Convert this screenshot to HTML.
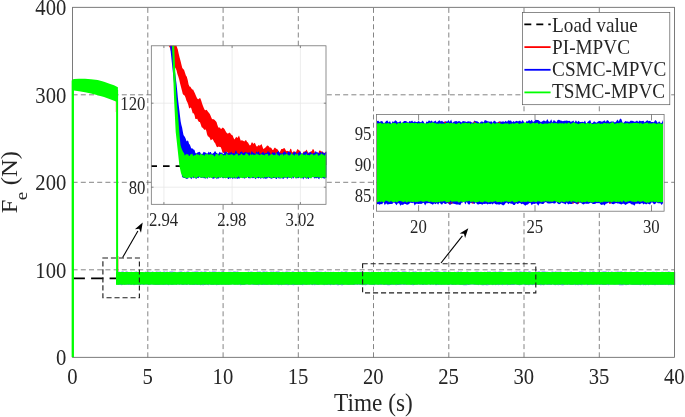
<!DOCTYPE html>
<html><head><meta charset="utf-8"><title>Fe response</title>
<style>html,body{margin:0;padding:0;background:#fff}svg{display:block}text{font-family:"Liberation Serif",serif;fill:#262626}</style></head><body>
<svg width="685" height="417" viewBox="0 0 685 417">
<rect width="685" height="417" fill="#fff"/>
<path d="M147.8,357.3V7.3M223.1,357.3V7.3M298.3,357.3V7.3M373.5,357.3V7.3M448.8,357.3V7.3M524,357.3V7.3M599.3,357.3V7.3M72.6,269.8H674.5M72.6,182.3H674.5M72.6,94.8H674.5" stroke="#666" stroke-width="0.8" stroke-dasharray="5 3.2" fill="none"/>
<path d="M72.6,278.4H116.5" stroke="#000" stroke-width="1.6" stroke-dasharray="12.3 6.2" fill="none"/>
<path d="M118,271.6L119.3,271.8L120.7,271.9L122,271.5L123.3,271.6L124.6,272.2L126,271.5L127.3,271.6L128.6,272.2L130,271.9L131.3,271.7L132.6,271.9L134,272L135.3,271.7L136.6,271.6L137.9,272.1L139.3,272L140.6,271.9L141.9,272.1L143.3,271.9L144.6,272.2L145.9,271.6L147.3,271.9L148.6,271.8L149.9,271.7L151.2,271.9L152.6,271.6L153.9,272.1L155.2,272.1L156.6,271.6L157.9,271.8L159.2,271.7L160.5,271.5L161.9,272.2L163.2,271.8L164.5,271.6L165.9,272L167.2,271.6L168.5,272.2L169.9,271.6L171.2,271.5L172.5,271.6L173.8,271.7L175.2,271.8L176.5,272.2L177.8,272L179.2,271.7L180.5,271.5L181.8,271.6L183.2,272.2L184.5,271.8L185.8,272L187.1,271.5L188.5,271.5L189.8,272.1L191.1,271.9L192.5,271.7L193.8,271.7L195.1,271.5L196.4,271.6L197.8,271.5L199.1,272.1L200.4,271.8L201.8,271.6L203.1,272L204.4,271.6L205.8,271.5L207.1,271.9L208.4,272.2L209.7,271.5L211.1,272.1L212.4,271.6L213.7,271.5L215.1,271.5L216.4,271.7L217.7,272L219,271.8L220.4,272.1L221.7,271.6L223,271.7L224.4,271.7L225.7,272.2L227,272.2L228.4,271.7L229.7,271.8L231,271.7L232.3,272L233.7,271.5L235,271.5L236.3,271.8L237.7,271.6L239,272.1L240.3,272L241.7,271.9L243,272L244.3,272L245.6,272.1L247,272.2L248.3,271.6L249.6,272L251,271.6L252.3,271.8L253.6,272.1L254.9,272.2L256.3,272.1L257.6,271.5L258.9,271.7L260.3,271.6L261.6,272.2L262.9,271.6L264.3,271.6L265.6,271.7L266.9,271.5L268.2,272.1L269.6,272L270.9,271.6L272.2,271.8L273.6,271.5L274.9,271.9L276.2,271.6L277.6,271.5L278.9,271.5L280.2,271.9L281.5,272L282.9,271.7L284.2,272L285.5,271.7L286.9,271.6L288.2,271.7L289.5,271.8L290.8,272.2L292.2,271.5L293.5,271.5L294.8,271.9L296.2,272.2L297.5,272.2L298.8,272L300.2,271.5L301.5,272.1L302.8,272L304.1,271.6L305.5,271.8L306.8,271.5L308.1,272.1L309.5,272L310.8,272.1L312.1,272.1L313.5,271.7L314.8,272.1L316.1,271.6L317.4,271.6L318.8,271.8L320.1,271.8L321.4,271.7L322.8,271.9L324.1,271.9L325.4,271.6L326.7,271.9L328.1,271.7L329.4,272L330.7,271.7L332.1,272.1L333.4,271.8L334.7,271.9L336.1,272L337.4,271.9L338.7,271.7L340,272.2L341.4,271.5L342.7,271.7L344,271.9L345.4,271.5L346.7,271.6L348,272.1L349.3,272.1L350.7,272L352,272.2L353.3,272.1L354.7,271.7L356,272L357.3,271.7L358.7,272L360,271.8L361.3,271.6L362.6,272.2L364,272L365.3,272L366.6,271.9L368,272.1L369.3,271.8L370.6,271.9L372,271.5L373.3,271.9L374.6,272.1L375.9,272L377.3,272.1L378.6,271.8L379.9,272.2L381.3,271.5L382.6,272.2L383.9,271.7L385.2,271.5L386.6,271.9L387.9,271.8L389.2,271.8L390.6,272.1L391.9,271.6L393.2,271.9L394.6,271.8L395.9,271.9L397.2,271.8L398.5,271.6L399.9,271.9L401.2,272.1L402.5,271.6L403.9,271.5L405.2,271.5L406.5,271.8L407.9,272.2L409.2,271.5L410.5,272.2L411.8,271.9L413.2,271.5L414.5,271.8L415.8,271.6L417.2,272L418.5,271.9L419.8,271.7L421.1,271.7L422.5,272.1L423.8,272.1L425.1,271.8L426.5,271.8L427.8,272L429.1,272.2L430.5,271.5L431.8,271.6L433.1,271.7L434.4,271.9L435.8,271.5L437.1,271.5L438.4,271.6L439.8,271.8L441.1,272L442.4,271.9L443.8,271.5L445.1,271.5L446.4,271.8L447.7,272.1L449.1,272.2L450.4,271.7L451.7,272.2L453.1,272.2L454.4,271.8L455.7,272L457,271.7L458.4,271.6L459.7,271.9L461,271.5L462.4,272L463.7,272.1L465,272.2L466.4,271.8L467.7,271.5L469,272.2L470.3,272.1L471.7,272.2L473,271.9L474.3,272L475.7,271.7L477,271.6L478.3,271.7L479.6,272L481,271.7L482.3,272L483.6,271.9L485,271.8L486.3,272.2L487.6,271.6L489,271.8L490.3,271.6L491.6,272.2L492.9,271.8L494.3,271.7L495.6,271.6L496.9,271.9L498.3,271.8L499.6,271.6L500.9,271.5L502.3,271.8L503.6,271.9L504.9,271.9L506.2,272.2L507.6,272.2L508.9,272.2L510.2,272.1L511.6,271.8L512.9,271.9L514.2,271.8L515.5,271.8L516.9,271.5L518.2,272.1L519.5,271.6L520.9,271.5L522.2,271.8L523.5,272L524.9,271.8L526.2,271.7L527.5,272L528.8,271.6L530.2,271.5L531.5,271.9L532.8,271.9L534.2,272.1L535.5,271.8L536.8,272.1L538.2,271.5L539.5,271.5L540.8,271.9L542.1,271.6L543.5,271.5L544.8,271.6L546.1,271.7L547.5,271.7L548.8,271.9L550.1,272.2L551.4,271.7L552.8,271.6L554.1,271.9L555.4,271.5L556.8,271.8L558.1,271.7L559.4,271.8L560.8,271.5L562.1,271.9L563.4,271.9L564.7,272L566.1,272.2L567.4,271.7L568.7,272L570.1,271.8L571.4,271.6L572.7,272.2L574.1,272L575.4,272.2L576.7,272.1L578,272.2L579.4,271.6L580.7,271.5L582,271.6L583.4,271.8L584.7,272L586,271.8L587.3,271.9L588.7,272.1L590,271.5L591.3,272L592.7,271.5L594,271.6L595.3,272L596.7,272L598,271.8L599.3,271.7L600.6,272.1L602,271.7L603.3,271.5L604.6,271.6L606,271.5L607.3,272.1L608.6,271.5L609.9,272.2L611.3,271.6L612.6,271.7L613.9,271.9L615.3,271.7L616.6,271.8L617.9,271.5L619.3,271.8L620.6,271.5L621.9,271.6L623.2,272.2L624.6,271.7L625.9,271.7L627.2,272L628.6,272.2L629.9,271.7L631.2,271.8L632.6,272L633.9,272.1L635.2,271.9L636.5,271.6L637.9,271.6L639.2,272.1L640.5,272L641.9,272.2L643.2,272.1L644.5,271.8L645.8,271.6L647.2,272.2L648.5,272L649.8,271.9L651.2,272L652.5,271.8L653.8,271.7L655.2,271.9L656.5,271.8L657.8,272L659.1,272.2L660.5,272.1L661.8,271.8L663.1,271.7L664.5,272.2L665.8,271.8L667.1,272.1L668.5,271.5L669.8,271.8L671.1,271.9L672.4,272.1L673.8,272.2L675.1,271.6L675.1,285L673.8,285L672.4,284.6L671.1,285.2L669.8,284.9L668.5,285.3L667.1,284.6L665.8,284.9L664.5,284.8L663.1,285L661.8,285L660.5,284.9L659.1,284.8L657.8,284.9L656.5,284.8L655.2,285.2L653.8,284.9L652.5,284.9L651.2,284.7L649.8,284.7L648.5,285.3L647.2,284.8L645.8,285.2L644.5,285L643.2,285.3L641.9,284.6L640.5,285.3L639.2,285.1L637.9,285L636.5,285.1L635.2,285.1L633.9,284.9L632.6,285L631.2,284.7L629.9,284.5L628.6,285L627.2,284.9L625.9,285.2L624.6,284.7L623.2,285.2L621.9,285.3L620.6,285.2L619.3,285.3L617.9,284.6L616.6,284.6L615.3,284.7L613.9,284.8L612.6,284.6L611.3,284.6L609.9,284.5L608.6,285.2L607.3,284.8L606,285L604.6,284.9L603.3,285.1L602,285.1L600.6,284.8L599.3,284.9L598,284.6L596.7,284.7L595.3,284.7L594,284.7L592.7,284.8L591.3,285L590,284.8L588.7,284.8L587.3,285.2L586,284.5L584.7,284.5L583.4,284.5L582,285.2L580.7,285L579.4,285.1L578,285.3L576.7,284.7L575.4,285.2L574.1,284.7L572.7,284.9L571.4,285L570.1,285.1L568.7,284.7L567.4,284.9L566.1,284.5L564.7,284.7L563.4,285.3L562.1,285.2L560.8,285L559.4,285.1L558.1,285.2L556.8,284.8L555.4,285.3L554.1,284.9L552.8,284.6L551.4,284.9L550.1,285L548.8,285.1L547.5,285L546.1,284.5L544.8,285L543.5,285.2L542.1,285L540.8,285.3L539.5,284.9L538.2,285.1L536.8,284.6L535.5,285.2L534.2,284.8L532.8,285.2L531.5,284.8L530.2,285L528.8,285.2L527.5,285.1L526.2,285L524.9,285.3L523.5,284.6L522.2,284.6L520.9,284.9L519.5,285.3L518.2,285L516.9,284.7L515.5,284.6L514.2,284.9L512.9,284.9L511.6,284.9L510.2,285L508.9,284.7L507.6,285.2L506.2,284.7L504.9,284.6L503.6,284.8L502.3,285.2L500.9,284.6L499.6,284.7L498.3,285.2L496.9,284.8L495.6,285.2L494.3,284.5L492.9,285.2L491.6,284.7L490.3,284.6L489,285.1L487.6,285.3L486.3,285.3L485,285.1L483.6,285.2L482.3,285.3L481,284.9L479.6,284.6L478.3,285.2L477,284.8L475.7,284.8L474.3,284.9L473,284.5L471.7,284.5L470.3,284.7L469,285L467.7,285.1L466.4,285.3L465,285.2L463.7,285.3L462.4,285L461,285.1L459.7,285L458.4,284.6L457,284.5L455.7,285.1L454.4,284.7L453.1,285.1L451.7,284.9L450.4,284.5L449.1,284.9L447.7,284.9L446.4,284.6L445.1,284.7L443.8,284.7L442.4,284.8L441.1,285.1L439.8,284.6L438.4,284.9L437.1,285L435.8,285.3L434.4,284.6L433.1,284.6L431.8,284.7L430.5,284.7L429.1,284.6L427.8,284.6L426.5,284.7L425.1,284.7L423.8,284.9L422.5,285L421.1,284.8L419.8,284.6L418.5,284.6L417.2,284.7L415.8,284.6L414.5,284.9L413.2,285.2L411.8,285.1L410.5,284.7L409.2,284.5L407.9,284.6L406.5,284.8L405.2,284.8L403.9,285L402.5,284.6L401.2,284.7L399.9,285L398.5,285L397.2,284.9L395.9,285.2L394.6,284.6L393.2,284.7L391.9,285L390.6,285L389.2,285.3L387.9,285.3L386.6,285L385.2,285.1L383.9,285.1L382.6,284.6L381.3,285L379.9,284.7L378.6,284.8L377.3,284.6L375.9,284.5L374.6,285.2L373.3,285.1L372,285.1L370.6,284.7L369.3,284.8L368,284.6L366.6,285L365.3,285.2L364,285.1L362.6,285.2L361.3,284.7L360,285.1L358.7,284.6L357.3,284.9L356,284.6L354.7,284.9L353.3,284.9L352,284.8L350.7,284.8L349.3,285.1L348,284.9L346.7,284.8L345.4,284.6L344,284.7L342.7,285.2L341.4,285.3L340,284.8L338.7,285.2L337.4,285.2L336.1,284.7L334.7,284.7L333.4,285.1L332.1,284.7L330.7,285.3L329.4,284.8L328.1,285.1L326.7,285.1L325.4,284.7L324.1,285.2L322.8,284.8L321.4,284.6L320.1,284.5L318.8,284.9L317.4,285L316.1,284.7L314.8,285.2L313.5,284.7L312.1,285.2L310.8,284.5L309.5,284.7L308.1,284.6L306.8,284.9L305.5,284.8L304.1,284.8L302.8,285.2L301.5,285L300.2,285L298.8,284.8L297.5,285.1L296.2,284.9L294.8,285.1L293.5,285.2L292.2,285L290.8,284.8L289.5,284.7L288.2,285.2L286.9,285.1L285.5,285.1L284.2,284.7L282.9,284.8L281.5,285.2L280.2,284.7L278.9,285.2L277.6,284.9L276.2,284.7L274.9,284.8L273.6,284.6L272.2,285L270.9,285.1L269.6,284.5L268.2,284.7L266.9,285.1L265.6,284.7L264.3,284.9L262.9,285.1L261.6,285L260.3,284.6L258.9,285.2L257.6,285.1L256.3,285L254.9,284.8L253.6,285L252.3,284.8L251,284.6L249.6,284.6L248.3,284.5L247,284.6L245.6,284.7L244.3,285L243,285L241.7,285L240.3,285.2L239,284.6L237.7,284.8L236.3,284.6L235,284.8L233.7,284.6L232.3,284.6L231,284.6L229.7,284.8L228.4,285.1L227,284.7L225.7,285.1L224.4,284.7L223,284.7L221.7,284.9L220.4,284.6L219,284.9L217.7,285L216.4,285.2L215.1,284.5L213.7,285.1L212.4,285L211.1,285L209.7,284.5L208.4,285.2L207.1,284.7L205.8,284.9L204.4,284.9L203.1,285.2L201.8,285L200.4,285.3L199.1,284.7L197.8,285L196.4,285L195.1,284.9L193.8,285L192.5,284.9L191.1,284.8L189.8,285L188.5,284.6L187.1,284.9L185.8,284.9L184.5,284.7L183.2,285L181.8,285L180.5,284.6L179.2,284.7L177.8,284.5L176.5,285L175.2,284.6L173.8,284.7L172.5,284.9L171.2,284.9L169.9,284.5L168.5,285.3L167.2,284.7L165.9,285L164.5,284.7L163.2,285L161.9,284.8L160.5,284.8L159.2,284.9L157.9,285L156.6,285L155.2,285.1L153.9,284.7L152.6,284.6L151.2,284.7L149.9,284.8L148.6,285L147.3,284.8L145.9,284.7L144.6,284.6L143.3,285L141.9,284.6L140.6,284.9L139.3,285.1L137.9,285L136.6,284.6L135.3,284.8L134,285.3L132.6,284.6L131.3,285L130,284.8L128.6,285L127.3,284.8L126,284.6L124.6,284.9L123.3,284.5L122,285.2L120.7,285.1L119.3,284.8L118,284.9Z" fill="#0000ff" fill-opacity="0.55"/>
<path d="M118.4,256V271.5" stroke="#ff0000" stroke-opacity="0.5" stroke-width="0.6" fill="none"/>
<path d="M115.9,99V112" stroke="#ff0000" stroke-opacity="0.5" stroke-width="0.5" fill="none"/>
<path d="M71.8,81L72.6,79.6L74,79.1L79,78.8L85,78.8L91,79.2L97.7,80.1L104,81.7L110.2,83.9L114,85.3L117.9,87.2L117.9,102.2L116,101.4L110.2,99.2L104,97.1L97.7,95.2L91,93.6L85,92.3L79,91.3L73.8,90.5L73.8,357.3L71.8,357.3Z" fill="#00ff00"/>
<path d="M116.1,90H118.1V284.6H116.1Z" fill="#00ff00"/>
<path d="M116.1,272.1L117.6,272.2L119,271.9L120.5,272L122,272L123.5,272.1L124.9,272.1L126.4,272L127.9,271.9L129.4,272.1L130.8,272L132.3,272L133.8,272.1L135.3,272L136.7,272L138.2,272L139.7,272.1L141.2,272L142.6,272L144.1,272.2L145.6,272L147.1,272L148.5,272.1L150,272.2L151.5,272.1L153,272.1L154.4,272.1L155.9,272.1L157.4,272.1L158.9,272L160.3,272L161.8,272.1L163.3,272.1L164.8,272.2L166.2,272L167.7,272.1L169.2,272L170.7,272.2L172.1,272.2L173.6,271.9L175.1,272L176.6,272.2L178,272.2L179.5,272.1L181,272L182.5,271.9L183.9,272L185.4,272.2L186.9,272.1L188.4,272L189.8,272.1L191.3,272.1L192.8,272L194.3,272.1L195.7,272L197.2,272L198.7,271.9L200.2,272L201.6,272.1L203.1,271.9L204.6,272.1L206.1,272L207.5,272.1L209,272L210.5,272L212,272L213.4,272.1L214.9,272.1L216.4,272.1L217.9,272.1L219.3,272.1L220.8,272.1L222.3,272L223.8,272L225.2,272.1L226.7,272L228.2,272.1L229.7,271.9L231.1,272L232.6,272L234.1,272L235.6,272.1L237,272L238.5,272.1L240,272L241.5,272L242.9,272L244.4,272.1L245.9,272L247.4,272.1L248.8,272.1L250.3,272.1L251.8,271.9L253.3,272L254.7,272L256.2,272.1L257.7,271.9L259.2,272.1L260.6,272L262.1,272.2L263.6,271.9L265.1,272L266.5,272L268,272.1L269.5,272.1L271,272L272.4,272L273.9,272.1L275.4,272L276.9,272L278.3,272.2L279.8,272.1L281.3,272L282.8,272.1L284.2,272.2L285.7,272L287.2,272.1L288.7,272.1L290.1,272.1L291.6,272.1L293.1,272.1L294.6,272.1L296,272.1L297.5,272L299,272.1L300.5,272.1L301.9,272L303.4,272.1L304.9,272L306.4,272.1L307.8,272.1L309.3,272L310.8,272.1L312.3,272L313.7,271.9L315.2,272L316.7,272L318.2,272.1L319.6,272L321.1,272L322.6,272.1L324.1,272L325.5,272.1L327,272L328.5,272.1L330,272L331.4,272.1L332.9,272.1L334.4,272.1L335.9,272L337.3,272.1L338.8,272L340.3,272.1L341.8,272.1L343.2,272L344.7,271.9L346.2,272.1L347.7,272.2L349.1,272.1L350.6,272L352.1,272.1L353.6,271.9L355,271.9L356.5,272.1L358,272.1L359.5,272.1L360.9,272L362.4,272L363.9,272.2L365.4,272L366.8,272L368.3,272.1L369.8,272.2L371.3,272L372.7,272.1L374.2,272L375.7,272L377.2,272L378.6,272L380.1,272.1L381.6,272L383.1,272.1L384.5,272.1L386,272.1L387.5,272.1L389,272L390.4,272.2L391.9,272L393.4,271.9L394.9,272.1L396.3,272L397.8,272L399.3,272L400.8,272L402.2,272L403.7,272.1L405.2,272L406.7,272L408.1,272L409.6,272.2L411.1,272L412.6,272L414,272.1L415.5,272.2L417,272.1L418.5,272.1L419.9,272L421.4,272L422.9,272.1L424.4,272L425.8,272L427.3,272L428.8,272L430.3,272.1L431.7,272.1L433.2,272L434.7,272L436.2,272.1L437.6,272.1L439.1,272.1L440.6,272.1L442.1,272L443.5,272.1L445,272.1L446.5,272L448,272L449.4,271.9L450.9,272.1L452.4,272.1L453.9,271.9L455.3,272.1L456.8,272.2L458.3,271.9L459.8,272L461.2,271.9L462.7,272L464.2,272L465.7,272.1L467.1,271.9L468.6,272L470.1,272.2L471.6,271.9L473,272L474.5,272L476,271.9L477.5,272L478.9,272.1L480.4,272.1L481.9,272.1L483.4,272.1L484.8,272.1L486.3,271.9L487.8,272.1L489.3,272.1L490.7,272L492.2,272L493.7,272L495.2,272.1L496.6,272L498.1,272L499.6,272.1L501.1,272.1L502.5,272.1L504,272.1L505.5,272L507,272L508.4,272.1L509.9,272.1L511.4,272.2L512.9,272L514.3,272.1L515.8,271.9L517.3,272L518.8,272.2L520.2,272L521.7,272.1L523.2,272.1L524.7,272.1L526.1,272L527.6,272.1L529.1,272.2L530.6,272.2L532,272L533.5,272L535,272L536.5,272L537.9,272.1L539.4,272.1L540.9,272L542.4,271.9L543.8,272L545.3,272.1L546.8,272.1L548.3,272L549.7,272.1L551.2,272.2L552.7,272.1L554.2,272L555.6,272.1L557.1,272.1L558.6,272.1L560.1,272L561.5,272L563,272L564.5,272L566,272L567.4,272.1L568.9,272.1L570.4,272.1L571.9,272.1L573.3,272L574.8,271.9L576.3,272L577.8,272.1L579.2,272.1L580.7,272.1L582.2,272.1L583.7,272.1L585.1,272.2L586.6,272.1L588.1,272.1L589.6,272.2L591,272.1L592.5,272.1L594,271.9L595.5,271.9L596.9,272.2L598.4,272L599.9,272L601.4,272L602.8,272.1L604.3,271.9L605.8,272.1L607.3,272L608.7,272.1L610.2,272.1L611.7,272.1L613.2,272L614.6,272.1L616.1,272.1L617.6,272.1L619.1,272L620.5,271.9L622,272.1L623.5,272.1L625,271.9L626.4,272.1L627.9,272.1L629.4,272L630.9,272.1L632.3,272L633.8,272L635.3,272L636.8,272L638.2,272.1L639.7,272.1L641.2,272L642.7,272L644.1,272L645.6,272.1L647.1,272.1L648.6,272L650,272L651.5,272L653,272L654.5,272.1L655.9,272.2L657.4,272L658.9,272.1L660.4,272L661.8,271.9L663.3,272.1L664.8,272L666.3,272.1L667.7,272.1L669.2,272L670.7,272.1L672.2,272L673.6,272.1L675.1,272L675.1,284.7L673.6,284.7L672.2,284.7L670.7,284.6L669.2,284.8L667.7,284.7L666.3,284.8L664.8,284.7L663.3,284.7L661.8,284.8L660.4,284.7L658.9,284.8L657.4,284.7L655.9,284.8L654.5,284.7L653,284.8L651.5,284.7L650,284.7L648.6,284.8L647.1,284.7L645.6,284.7L644.1,284.7L642.7,284.6L641.2,284.8L639.7,284.8L638.2,284.7L636.8,284.7L635.3,284.8L633.8,284.8L632.3,284.8L630.9,284.8L629.4,284.6L627.9,284.8L626.4,284.8L625,284.7L623.5,284.6L622,284.7L620.5,284.6L619.1,284.6L617.6,284.8L616.1,284.8L614.6,284.7L613.2,284.8L611.7,284.7L610.2,284.7L608.7,284.6L607.3,284.6L605.8,284.7L604.3,284.7L602.8,284.7L601.4,284.6L599.9,284.7L598.4,284.6L596.9,284.8L595.5,284.6L594,284.7L592.5,284.7L591,284.6L589.6,284.7L588.1,284.7L586.6,284.6L585.1,284.8L583.7,284.7L582.2,284.6L580.7,284.8L579.2,284.6L577.8,284.8L576.3,284.7L574.8,284.6L573.3,284.7L571.9,284.7L570.4,284.7L568.9,284.6L567.4,284.7L566,284.7L564.5,284.7L563,284.6L561.5,284.6L560.1,284.8L558.6,284.6L557.1,284.7L555.6,284.7L554.2,284.8L552.7,284.6L551.2,284.8L549.7,284.6L548.3,284.6L546.8,284.7L545.3,284.6L543.8,284.7L542.4,284.7L540.9,284.6L539.4,284.8L537.9,284.7L536.5,284.8L535,284.6L533.5,284.6L532,284.7L530.6,284.6L529.1,284.7L527.6,284.8L526.1,284.7L524.7,284.6L523.2,284.6L521.7,284.7L520.2,284.8L518.8,284.8L517.3,284.7L515.8,284.6L514.3,284.6L512.9,284.6L511.4,284.6L509.9,284.8L508.4,284.7L507,284.6L505.5,284.7L504,284.7L502.5,284.6L501.1,284.8L499.6,284.8L498.1,284.6L496.6,284.8L495.2,284.7L493.7,284.7L492.2,284.7L490.7,284.8L489.3,284.7L487.8,284.6L486.3,284.8L484.8,284.7L483.4,284.7L481.9,284.8L480.4,284.7L478.9,284.8L477.5,284.7L476,284.7L474.5,284.6L473,284.6L471.6,284.6L470.1,284.6L468.6,284.7L467.1,284.6L465.7,284.8L464.2,284.7L462.7,284.7L461.2,284.8L459.8,284.8L458.3,284.8L456.8,284.8L455.3,284.8L453.9,284.7L452.4,284.8L450.9,284.6L449.4,284.8L448,284.7L446.5,284.7L445,284.7L443.5,284.7L442.1,284.8L440.6,284.8L439.1,284.8L437.6,284.6L436.2,284.7L434.7,284.6L433.2,284.8L431.7,284.6L430.3,284.7L428.8,284.6L427.3,284.8L425.8,284.8L424.4,284.6L422.9,284.8L421.4,284.6L419.9,284.8L418.5,284.6L417,284.7L415.5,284.7L414,284.7L412.6,284.6L411.1,284.7L409.6,284.8L408.1,284.8L406.7,284.7L405.2,284.6L403.7,284.6L402.2,284.6L400.8,284.6L399.3,284.6L397.8,284.8L396.3,284.6L394.9,284.7L393.4,284.7L391.9,284.6L390.4,284.7L389,284.7L387.5,284.7L386,284.6L384.5,284.7L383.1,284.8L381.6,284.6L380.1,284.6L378.6,284.7L377.2,284.7L375.7,284.6L374.2,284.8L372.7,284.7L371.3,284.8L369.8,284.7L368.3,284.6L366.8,284.6L365.4,284.6L363.9,284.7L362.4,284.8L360.9,284.6L359.5,284.6L358,284.6L356.5,284.6L355,284.6L353.6,284.8L352.1,284.8L350.6,284.8L349.1,284.7L347.7,284.8L346.2,284.8L344.7,284.7L343.2,284.7L341.8,284.6L340.3,284.7L338.8,284.8L337.3,284.6L335.9,284.6L334.4,284.8L332.9,284.7L331.4,284.6L330,284.7L328.5,284.6L327,284.8L325.5,284.7L324.1,284.8L322.6,284.7L321.1,284.8L319.6,284.8L318.2,284.7L316.7,284.8L315.2,284.6L313.7,284.6L312.3,284.7L310.8,284.6L309.3,284.7L307.8,284.7L306.4,284.8L304.9,284.8L303.4,284.6L301.9,284.8L300.5,284.7L299,284.7L297.5,284.7L296,284.8L294.6,284.7L293.1,284.6L291.6,284.8L290.1,284.7L288.7,284.8L287.2,284.6L285.7,284.6L284.2,284.7L282.8,284.8L281.3,284.7L279.8,284.7L278.3,284.7L276.9,284.6L275.4,284.7L273.9,284.7L272.4,284.8L271,284.7L269.5,284.8L268,284.7L266.5,284.8L265.1,284.8L263.6,284.6L262.1,284.7L260.6,284.7L259.2,284.6L257.7,284.7L256.2,284.8L254.7,284.8L253.3,284.6L251.8,284.6L250.3,284.7L248.8,284.8L247.4,284.6L245.9,284.6L244.4,284.7L242.9,284.7L241.5,284.8L240,284.6L238.5,284.7L237,284.8L235.6,284.7L234.1,284.7L232.6,284.6L231.1,284.8L229.7,284.7L228.2,284.7L226.7,284.7L225.2,284.8L223.8,284.8L222.3,284.7L220.8,284.7L219.3,284.7L217.9,284.8L216.4,284.8L214.9,284.7L213.4,284.8L212,284.7L210.5,284.7L209,284.6L207.5,284.7L206.1,284.6L204.6,284.7L203.1,284.6L201.6,284.7L200.2,284.7L198.7,284.7L197.2,284.7L195.7,284.6L194.3,284.7L192.8,284.7L191.3,284.7L189.8,284.7L188.4,284.6L186.9,284.7L185.4,284.6L183.9,284.8L182.5,284.7L181,284.6L179.5,284.7L178,284.6L176.6,284.8L175.1,284.8L173.6,284.8L172.1,284.7L170.7,284.8L169.2,284.7L167.7,284.7L166.2,284.6L164.8,284.7L163.3,284.8L161.8,284.7L160.3,284.7L158.9,284.7L157.4,284.7L155.9,284.7L154.4,284.7L153,284.7L151.5,284.6L150,284.7L148.5,284.7L147.1,284.6L145.6,284.6L144.1,284.8L142.6,284.6L141.2,284.6L139.7,284.8L138.2,284.6L136.7,284.7L135.3,284.8L133.8,284.7L132.3,284.8L130.8,284.8L129.4,284.6L127.9,284.6L126.4,284.8L124.9,284.7L123.5,284.7L122,284.8L120.5,284.6L119,284.8L117.6,284.7L116.1,284.7Z" fill="#00ff00"/>
<rect x="72.6" y="7.3" width="601.9" height="350" fill="none" stroke="#5a5a5a" stroke-width="0.8"/>
<path d="M71.8,357V80H73.8V357Z" fill="#00ff00"/>
<path d="M102.9,258H139.4V297.7H102.9Z M362.6,263.7H535.8V292.8H362.6Z" stroke="#1f1f1f" stroke-width="1.15" stroke-dasharray="5.1 2.9" fill="none"/>
<path d="M122.6,257.6L137.9,230.9" stroke="#000" stroke-width="1.1" fill="none"/><path d="M142.7,222.6L141,232.7L139.2,228.7L134.9,229.2Z" fill="#000"/>
<path d="M441,263L462.4,235.8" stroke="#000" stroke-width="1.1" fill="none"/><path d="M468.3,228.2L465.1,237.9L464,233.7L459.6,233.6Z" fill="#000"/>
<clipPath id="c1"><rect x="151.3" y="45.8" width="175.1" height="158.5"/></clipPath>
<rect x="151.3" y="45.8" width="174.7" height="158.5" fill="#fff"/>
<path d="M163.9,45.8V204.3M232.1,45.8V204.3M300.4,45.8V204.3M151.3,187.2H326.0M151.3,103.2H326.0" stroke="#e8e8e8" stroke-width="0.8" fill="none"/>
<path d="M163.9,204.3v-2.2M163.9,45.8v2.2M232.1,204.3v-2.2M232.1,45.8v2.2M300.4,204.3v-2.2M300.4,45.8v2.2M151.3,187.2h2.2M326.0,187.2h-2.2M151.3,103.2h2.2M326.0,103.2h-2.2" stroke="#6a6a6a" stroke-width="0.8" fill="none"/>
<g clip-path="url(#c1)">
<path d="M150.4,166.1H181" stroke="#000" stroke-width="1.8" stroke-dasharray="6.6 6" fill="none"/>
<path d="M174.2,30.3L175.1,36.8L176,43.7L176.9,47L177.8,49.6L178.7,53.8L179.6,57.6L180.5,60.8L181.4,64.5L182.3,68L183.2,69.1L184.1,70.1L185,72.8L185.9,75.5L186.8,76.8L187.7,79.9L188.6,84.4L189.5,86.6L190.4,86.7L191.3,88.3L192.2,89.5L193.1,89.4L194,91.4L194.9,93.3L195.8,95.5L196.7,97.4L197.6,99L198.5,99.2L199.4,98.3L200.3,98.3L201.2,100.5L202.1,103.5L203,106L203.9,108.2L204.8,109.9L205.7,110.2L206.6,109.7L207.5,111L208.4,112.3L209.3,113.3L210.2,114.8L211.1,117.1L212,119.1L212.9,119.3L213.8,119.3L214.7,120.1L215.6,121L216.5,121.9L217.4,124.9L218.3,127.5L219.2,127.5L220.1,127.8L221,129.2L221.9,128.3L222.8,127.6L223.7,128.2L224.6,129.2L225.5,131.1L226.4,132.5L227.3,133.4L228.2,133.4L229.1,132.7L230,132.8L230.9,134.2L231.8,134.9L232.7,135.5L233.6,137.9L234.5,139.5L235.4,137.9L236.3,136.8L237.2,138L238.1,136.9L239,135.6L239.9,138.3L240.8,140.8L241.7,140.3L242.6,140.4L243.5,140.9L244.4,141.4L245.3,140.3L246.2,140.2L247.1,142.1L248,142.6L248.9,144.2L249.8,145.6L250.7,144.9L251.6,142.6L252.5,142.6L253.4,143.9L254.3,142.7L255.2,143.4L256.1,145.8L257,146.8L257.9,145.8L258.8,145.1L259.7,145.8L260.6,145L261.5,144L262.4,146.6L263.3,149.1L264.2,148.4L265.1,147.7L266,147.1L266.9,145.8L267.8,145.4L268.7,146.2L269.6,147.4L270.5,147.6L271.4,147.9L272.3,149.8L273.2,149.9L274.1,148.2L275,147.6L275.9,148.6L276.8,149.1L277.7,149.6L278.6,151.2L279.5,152.6L280.4,151.1L281.3,149.1L282.2,148.9L283.1,148.7L284,147.9L284.9,148.4L285.8,150.5L286.7,151.3L287.6,150.7L288.5,151.5L289.4,151.4L290.3,148.7L291.2,149.1L292.1,152.2L293,152.2L293.9,150.7L294.8,152L295.7,152.7L296.6,150.7L297.5,149.1L298.4,149.8L299.3,150.4L300.2,151L301.1,153.5L302,154.2L302.9,152.7L303.8,151.5L304.7,151.6L305.6,151L306.5,149.6L307.4,151.3L308.3,153.1L309.2,152.8L310.1,151.8L311,151.5L311.9,151L312.8,149.1L313.7,149.5L314.6,152.1L315.5,154L316.4,153.1L317.3,153L318.2,153.5L319.1,151.1L320,150.3L320.9,151.3L321.8,151.4L322.7,152L323.6,152.4L324.5,153L325.4,152.5L326.3,150.4L327,165L235,165L235,161.2L234.1,159.1L233.2,156.8L232.3,158.8L231.4,159.5L230.5,157.6L229.6,156.4L228.7,155.6L227.8,152.9L226.9,151.5L226,153.3L225.1,153.8L224.2,152.7L223.3,152.9L222.4,152.3L221.5,149L220.6,146.9L219.7,146.9L218.8,146.6L217.9,146.9L217,147.2L216.1,145.4L215.2,143.3L214.3,142.2L213.4,140.6L212.5,138.9L211.6,139.7L210.7,140.2L209.8,138L208.9,136.8L208,136.6L207.1,134.5L206.2,130.6L205.3,129.3L204.4,129.9L203.5,128.8L202.6,127.8L201.7,127.3L200.8,124.6L199.9,122.1L199,121.9L198.1,120.8L197.2,118.7L196.3,119L195.4,119.1L194.5,115L193.6,113.3L192.7,113.3L191.8,110.1L190.9,107.3L190,108.2L189.1,108.2L188.2,104.6L187.3,102.2L186.4,100.4L185.5,97.5L184.6,95.5L183.7,94.9L182.8,94.1L181.9,90.4L181,87L180.1,83.6L179.2,79.4L178.3,76.5L177.4,74.1L176.5,70.3L175.6,68.3L174.7,67.1L173.8,63.6L172.9,59.4L172,55.7L171.1,51.8L170.2,48.2L169.3,46.7L168.4,44.6L167.5,40.3L166.6,36.4L165.7,33.8L164.8,28.5Z" fill="#ff0000"/>
<path d="M169.9,44L171.6,44L176.5,83.8L177.2,90.4L177.9,98.1L178.6,104.3L179.3,109.7L180,116.1L180.7,121.6L181.4,125L182.1,127.4L182.8,131.4L183.5,134.9L184.2,136.1L184.9,137.1L185.6,138.6L186.3,140.8L187,141.4L187.7,140.2L188.4,141.5L189.1,143.9L189.8,144.4L190.5,146.2L191.2,148.5L191.9,148.2L192.6,148.6L193.3,149.6L194,149.5L194.7,150.6L195.4,152.9L196.1,153.4L196.8,152.9L197.5,152.6L198.2,152.3L198.9,152.1L199.6,151.7L200.3,152.6L201,153.9L201.7,153.7L202.4,154.1L203.1,152.8L203.8,151.8L204.5,152.3L205.2,152.5L205.9,152.8L206.6,153.4L207.3,153.5L208,152.9L208.7,151.5L209.4,152.7L210.1,152.1L210.8,151.9L211.5,153.6L212.2,154.1L212.9,153.3L213.6,152.9L214.3,151.9L215,151L215.7,151.7L216.4,153.1L217.1,153L217.8,154L218.5,153.7L219.2,152.4L219.9,151.8L220.6,152.8L221.3,153.2L222,152.1L222.7,153.7L223.4,154L224.1,153.6L224.8,150.8L225.5,152.8L226.2,151.6L226.9,152.3L227.6,153.1L228.3,153.5L229,153.1L229.7,152.6L230.4,153L231.1,151.6L231.8,152.2L232.5,153.6L233.2,153.2L233.9,153.1L234.6,153.9L235.3,151.4L236,150.2L236.7,151.9L237.4,153.3L238.1,153L238.8,154.1L239.5,154.2L240.2,151.9L240.9,152.1L241.6,151.2L242.3,152L243,153.1L243.7,153.2L244.4,152.5L245.1,151.7L245.8,152.4L246.5,152.3L247.2,152.4L247.9,152.9L248.6,152.6L249.3,151.9L250,153.3L250.7,153.9L251.4,151.3L252.1,151.5L252.8,152.6L253.5,153L254.2,152.9L254.9,153.9L255.6,153.7L256.3,151.6L257,151.9L257.7,152.9L258.4,151.2L259.1,152.2L259.8,154.2L260.5,154.3L261.2,152.8L261.9,153.4L262.6,152L263.3,152.3L264,152.7L264.7,153.9L265.4,153.1L266.1,153.1L266.8,153.3L267.5,151.8L268.2,151L268.9,153L269.6,151.9L270.3,153.7L271,155.4L271.7,153.6L272.4,152.3L273.1,152.4L273.8,152.9L274.5,152L275.2,153.5L275.9,153.6L276.6,152.4L277.3,152.1L278,152.1L278.7,150.6L279.4,152.8L280.1,153.4L280.8,152.9L281.5,153.8L282.2,153.5L282.9,153L283.6,152L284.3,151.6L285,151.4L285.7,152.6L286.4,153.1L287.1,153.9L287.8,151.9L288.5,151.3L289.2,152.2L289.9,152.1L290.6,152.3L291.3,154L292,153.7L292.7,153.8L293.4,152.2L294.1,152.5L294.8,151.5L295.5,151.7L296.2,153.6L296.9,153.6L297.6,153.4L298.3,153.2L299,151.9L299.7,151.7L300.4,151.6L301.1,153.3L301.8,153.5L302.5,154.1L303.2,153.4L303.9,151.7L304.6,152.6L305.3,152L306,151.2L306.7,151.6L307.4,153.5L308.1,153.9L308.8,152.2L309.5,152.8L310.2,152.3L310.9,152L311.6,153.3L312.3,153.8L313,153.7L313.7,153L314.4,152.9L315.1,152.3L315.8,150.8L316.5,152.3L317.2,152.3L317.9,152.5L318.6,153L319.3,153.7L320,151.9L320.7,151.9L321.4,153.4L322.1,151.1L322.8,152.6L323.5,152.9L324.2,153.5L324.9,152.5L325.6,152.6L326.3,151.9L327,150.9L327,178L326.4,177.8L325.6,177.5L324.8,179L324,177.9L323.2,178.5L322.4,177.7L321.6,177.4L320.8,177.9L320,177.3L319.2,179.3L318.4,178.8L317.6,177.6L316.8,178.4L316,177.8L315.2,178.3L314.4,178.6L313.6,177.2L312.8,177L312,177.2L311.2,177.3L310.4,177.1L309.6,177.2L308.8,178.9L308,178.7L307.2,177.9L306.4,178.4L305.6,178.3L304.8,177.2L304,177.9L303.2,179.4L302.4,177.8L301.6,178.5L300.8,177.1L300,177L299.2,177.8L298.4,178.2L297.6,178.1L296.8,178.6L296,177.9L295.2,178.2L294.4,176.2L293.6,178.8L292.8,177.1L292,178.7L291.2,178.3L290.4,177.7L289.6,177.9L288.8,177.5L288,177.9L287.2,179.3L286.4,177.6L285.6,177.6L284.8,177.5L284,178.2L283.2,178.9L282.4,178.5L281.6,177L280.8,179.3L280,176.8L279.2,179.2L278.4,178.1L277.6,176.9L276.8,179.1L276,178.9L275.2,178.1L274.4,178.1L273.6,178L272.8,177.9L272,178.4L271.2,178.8L270.4,178.2L269.6,177.9L268.8,177.4L268,177.5L267.2,178.4L266.4,178.4L265.6,178.7L264.8,178.6L264,178.1L263.2,178.7L262.4,177.7L261.6,178L260.8,178.9L260,178.1L259.2,177.8L258.4,178.4L257.6,178.1L256.8,177.5L256,178.7L255.2,179.3L254.4,177.2L253.6,178.2L252.8,177.8L252,178.6L251.2,176.8L250.4,178.5L249.6,178.2L248.8,178.3L248,178L247.2,176.1L246.4,178L245.6,177.9L244.8,178.6L244,178.6L243.2,177.6L242.4,178L241.6,177.3L240.8,177.1L240,177.9L239.2,178.7L238.4,178.2L237.6,178.8L236.8,178.7L236,177.8L235.2,178.7L234.4,178.2L233.6,177.9L232.8,179.2L232,178L231.2,177.6L230.4,178.8L229.6,178L228.8,179L228,179L227.2,177.4L226.4,177.8L225.6,178.3L224.8,178L224,177.5L223.2,178.6L222.4,178.1L221.6,176.6L220.8,178.3L220,176.5L219.2,178.2L218.4,178.6L217.6,178.2L216.8,179.3L216,177.5L215.2,177L214.4,178.4L213.6,178.5L212.8,179L212,177.6L211.2,177.4L210.4,177L209.6,177.9L208.8,176.7L208,178.3L207.2,178.7L206.4,177.6L205.6,178.7L204.8,178L204,178.6L203.2,177.4L202.4,177.7L201.6,178L200.8,177.6L200,177.5L199.2,177.1L198.4,178.3L197.6,177.8L196.8,178.2L196,179.3L195.2,177.7L194.4,177.2L193.6,178.5L192.8,176.8L192,178.3L191.2,179.2L190.4,177.8L189.6,177.3L188.8,176.6L188,179.1L187.2,178.5L186.4,179L185.6,178.3L184.8,177.9L184,178L182,177L176.2,104Z" fill="#0000ff"/>
<path d="M172,44L174.2,44L174.2,46L174.9,62.4L175.6,78.9L176.3,95.3L177,105L177.7,112L178.4,120L179.1,129.3L179.8,137.7L180.5,145L181.2,147.5L181.9,149.2L182.6,151L183.3,152.3L184,153.1L184.7,155.4L185.4,154.9L186.1,153.7L186.8,154.4L187.5,154.2L188.2,154.2L188.9,155.9L189.6,155.9L190.3,154.2L191,154.5L191.7,153.8L192.4,153.7L193.1,155.9L193.8,155.6L194.5,155.3L195.2,155.3L195.9,154.7L196.6,153.5L197.3,154.4L198,154.4L198.7,154.6L199.4,155.6L200.1,154.6L200.8,153.4L201.5,154.2L202.2,154.6L202.9,154.8L203.6,154.9L204.3,156.1L205,154.5L205.7,154L206.4,154.4L207.1,153.9L207.8,153.7L208.5,155L209.2,154.6L209.9,154.6L210.6,154.3L211.3,154.4L212,154L212.7,155L213.4,155.1L214.1,156.1L214.8,156.5L215.5,154.4L216.2,153.7L216.9,154.5L217.6,153.7L218.3,154.2L219,155.9L219.7,154.8L220.4,154L221.1,154L221.8,153.9L222.5,154.3L223.2,155.3L223.9,155.4L224.6,154.8L225.3,155.5L226,154.2L226.7,153L227.4,154.1L228.1,154.9L228.8,154.7L229.5,154.7L230.2,155.2L230.9,153.8L231.6,154.4L232.3,154.3L233,155L233.7,155.4L234.4,155.3L235.1,154.9L235.8,153.8L236.5,154.1L237.2,153.3L237.9,154.5L238.6,155.8L239.3,155.3L240,155L240.7,154.4L241.4,153.4L242.1,154.1L242.8,155L243.5,155.3L244.2,155.2L244.9,155L245.6,153.8L246.3,152.9L247,153.7L247.7,154.1L248.4,154.7L249.1,156.1L249.8,155L250.5,154.1L251.2,155L251.9,154.5L252.6,154.2L253.3,154.7L254,155.2L254.7,154.7L255.4,154.4L256.1,154.5L256.8,153.1L257.5,154.3L258.2,154.7L258.9,154.6L259.6,155.3L260.3,155.1L261,153.9L261.7,154.3L262.4,154.8L263.1,154.8L263.8,154.9L264.5,155.6L265.2,154.2L265.9,154.2L266.6,153.9L267.3,153.7L268,154.3L268.7,155.9L269.4,155.4L270.1,154.8L270.8,154.8L271.5,153.9L272.2,154.1L272.9,154.7L273.6,155.2L274.3,154.7L275,155.6L275.7,154.3L276.4,153.1L277.1,154L277.8,155.2L278.5,155.1L279.2,156.2L279.9,155.3L280.6,154.2L281.3,154.7L282,154.3L282.7,153.7L283.4,155.6L284.1,155.4L284.8,154.1L285.5,154.7L286.2,153.9L286.9,153.6L287.6,154.4L288.3,155.6L289,154.7L289.7,155.7L290.4,154.7L291.1,153.8L291.8,153.2L292.5,154.5L293.2,154.5L293.9,155.2L294.6,155.7L295.3,153.7L296,154.3L296.7,154.7L297.4,153.6L298.1,154.7L298.8,155.9L299.5,155.3L300.2,154.9L300.9,153.9L301.6,153.8L302.3,153.6L303,154.6L303.7,155.1L304.4,154.6L305.1,155.4L305.8,154.2L306.5,153.4L307.2,154.9L307.9,155.1L308.6,155L309.3,155.5L310,155L310.7,154.2L311.4,154L312.1,154.4L312.8,153.9L313.5,155.2L314.2,155.4L314.9,154.2L315.6,154.5L316.3,154L317,153L317.7,154.4L318.4,155.9L319.1,155.1L319.8,155.4L320.5,154.4L321.2,153.2L321.9,153.9L322.6,154.4L323.3,154.2L324,155.6L324.7,155.4L325.4,154.1L326.1,154.4L326.8,154L327,177L326.6,177.4L325.9,178.2L325.2,177.7L324.5,177.5L323.8,177.4L323.1,177L322.4,177.5L321.7,178.6L321,178.1L320.3,178.1L319.6,177L318.9,177.7L318.2,177.3L317.5,176.7L316.8,177.8L316.1,177.1L315.4,177.3L314.7,177.7L314,177L313.3,176.9L312.6,176.8L311.9,177.5L311.2,178.6L310.5,178.2L309.8,177.9L309.1,177.8L308.4,177.5L307.7,177.1L307,178.4L306.3,178.6L305.6,177.6L304.9,177.5L304.2,177L303.5,177.5L302.8,177.7L302.1,178L301.4,177.9L300.7,178.6L300,177.9L299.3,177.1L298.6,177.3L297.9,177.5L297.2,178L296.5,177.4L295.8,178.5L295.1,177.8L294.4,177.1L293.7,177.2L293,176.6L292.3,177.6L291.6,178.4L290.9,178.1L290.2,177.7L289.5,177.7L288.8,177.5L288.1,176.7L287.4,177.4L286.7,177.8L286,177.5L285.3,178.1L284.6,177L283.9,177.3L283.2,177.7L282.5,177.8L281.8,177.9L281.1,178.6L280.4,177.8L279.7,177.4L279,177.3L278.3,177.2L277.6,177.6L276.9,177.7L276.2,177.6L275.5,177.9L274.8,177.7L274.1,177.5L273.4,176.9L272.7,177.9L272,178.5L271.3,177.7L270.6,178L269.9,177.3L269.2,176.9L268.5,176.7L267.8,177.4L267.1,177.2L266.4,177.3L265.7,178L265,177.1L264.3,177.2L263.6,178.4L262.9,177.5L262.2,177.5L261.5,178.1L260.8,177.8L260.1,178L259.4,177.6L258.7,176.9L258,177L257.3,177.5L256.6,178.2L255.9,177.7L255.2,178.4L254.5,177.7L253.8,177.1L253.1,177.8L252.4,177L251.7,177.8L251,177.9L250.3,178.1L249.6,177.4L248.9,177.3L248.2,177L247.5,176.9L246.8,177.8L246.1,178.1L245.4,177.9L244.7,177.6L244,177.9L243.3,177.2L242.6,178.2L241.9,178.1L241.2,177.8L240.5,177.7L239.8,177.7L239.1,177.2L238.4,176.2L237.7,177.4L237,177.4L236.3,177.7L235.6,178.5L234.9,177.8L234.2,177L233.5,178.2L232.8,177.8L232.1,177.5L231.4,178.1L230.7,177.8L230,177.4L229.3,177.5L228.6,177.5L227.9,176.9L227.2,178.1L226.5,177.9L225.8,177.8L225.1,178.2L224.4,177.8L223.7,177.2L223,178L222.3,177.4L221.6,177.3L220.9,177.5L220.2,177.9L219.5,177.2L218.8,177.2L218.1,177.5L217.4,177.5L216.7,178.3L216,178.2L215.3,178L214.6,177.6L213.9,177.1L213.2,177.4L212.5,177.8L211.8,177.9L211.1,177.8L210.4,177.6L209.7,177.8L209,176.9L208.3,177L207.6,177.8L206.9,178.2L206.2,177.9L205.5,178.3L204.8,177.6L204.1,177.2L203.4,177.8L202.7,177.6L202,177.3L201.3,178.1L200.6,177.8L199.9,176.8L199.2,177L198.5,176.6L197.8,177.1L197.1,177.6L196.4,178.5L195.7,177.9L195,177.6L194.3,178.3L193.6,176.3L192.9,177.6L192.2,177.6L191.5,177.7L190.8,177.6L190.1,177.7L189.4,177.4L188.7,177.5L188,178.1L187.3,177.9L186.6,178.2L185.9,178.4L185.2,177.7L184.5,177.5L183,177.4L181,173L179.4,165.8L176.6,140L175.7,132L174.1,100Z" fill="#00ff00"/>
</g>
<rect x="151.3" y="45.8" width="174.7" height="158.5" fill="none" stroke="#6a6a6a" stroke-width="0.75"/>
<rect x="376.5" y="114.4" width="287.6" height="96.8" fill="#fff"/>
<path d="M418.6,211.2v-6M418.6,114.4v6M535,211.2v-6M535,114.4v6M651.5,211.2v-6M651.5,114.4v6" stroke="#6a6a6a" stroke-width="0.8" fill="none"/>
<path d="M377,121L378.3,120.7L379.6,122.1L380.9,121.3L382.2,120.9L383.5,122.9L384.8,122.7L386.1,120.9L387.4,120.6L388.7,122.5L390,121L391.3,124.1L392.6,121.2L393.9,122.1L395.2,120.2L396.5,121.1L397.8,122.4L399.1,122L400.4,121L401.7,123.5L403,122L404.3,121L405.6,121L406.9,121.5L408.2,122.7L409.5,121L410.8,121.5L412.1,120.4L413.4,122.3L414.7,121.2L416,122.1L417.3,122.1L418.6,121.1L419.9,121.9L421.2,122.2L422.5,120.4L423.8,122L425.1,124.7L426.4,121.5L427.7,122L429,120.2L430.3,121.6L431.6,120.5L432.9,122.1L434.2,121.5L435.5,120.5L436.8,122.6L438.1,121.3L439.4,120.3L440.7,121.5L442,120.7L443.3,121.9L444.6,121.7L445.9,121.2L447.2,121.7L448.5,120.1L449.8,122.1L451.1,119.6L452.4,123.1L453.7,121.8L455,121.2L456.3,120.9L457.6,121.8L458.9,121.1L460.2,121.4L461.5,122.5L462.8,121.1L464.1,121.3L465.4,121.6L466.7,122L468,121.2L469.3,121.6L470.6,121.6L471.9,122.4L473.2,122.8L474.5,120.5L475.8,121.3L477.1,121.3L478.4,121.9L479.7,123L481,121.5L482.3,121.5L483.6,122.3L484.9,120.1L486.2,120.5L487.5,121.2L488.8,121.6L490.1,121.8L491.4,121.2L492.7,122.8L494,120.6L495.3,121.3L496.6,122.4L497.9,122.2L499.2,121.6L500.5,121.6L501.8,121.8L503.1,121.3L504.4,121.9L505.7,120.7L507,121.9L508.3,120.2L509.6,120.7L510.9,120.4L512.2,122.3L513.5,120.9L514.8,121.9L516.1,120.7L517.4,121.3L518.7,121.2L520,120.4L521.3,121.9L522.6,120.1L523.9,122.1L525.2,124L526.5,121L527.8,121.4L529.1,119.9L530.4,121.3L531.7,119.7L533,122L534.3,121.2L535.6,119.8L536.9,120.1L538.2,119.9L539.5,120.9L540.8,122.1L542.1,121.4L543.4,120.6L544.7,120.8L546,121.5L547.3,119L548.6,121.6L549.9,121.7L551.2,119.2L552.5,122.5L553.8,120.1L555.1,121L556.4,122.2L557.7,119.9L559,119.7L560.3,120.6L561.6,120.8L562.9,121.2L564.2,120.8L565.5,120.7L566.8,120.6L568.1,121.1L569.4,120.8L570.7,121.7L572,121.4L573.3,120.4L574.6,122.6L575.9,120.2L577.2,122.2L578.5,120.8L579.8,121.9L581.1,121.9L582.4,121.8L583.7,122.3L585,120.5L586.3,123.7L587.6,121.9L588.9,120.9L590.2,120.1L591.5,123.4L592.8,122.7L594.1,121.2L595.4,122.2L596.7,122.8L598,121.5L599.3,121.1L600.6,121.2L601.9,121.7L603.2,121.3L604.5,120.3L605.8,122.1L607.1,120.1L608.4,120.8L609.7,122.2L611,121.5L612.3,121.6L613.6,121.5L614.9,122.6L616.2,121.5L617.5,119.5L618.8,121.4L620.1,118.4L621.4,119.3L622.7,122.9L624,122.5L625.3,121L626.6,121.4L627.9,121.4L629.2,122L630.5,120.8L631.8,120.7L633.1,120.9L634.4,121.7L635.7,121.5L637,120.6L638.3,121.9L639.6,120.4L640.9,121.3L642.2,121.1L643.5,120.7L644.8,122.4L646.1,121.1L647.4,120.3L648.7,121.3L650,120.7L651.3,122L652.6,122.1L653.9,122.2L655.2,120.1L656.5,120.9L657.8,123L659.1,121.3L660.4,122.7L661.7,123L663,120.1L663,203.1L661.7,204.9L660.4,203.3L659.1,203.2L657.8,203.3L656.5,202.3L655.2,203.9L653.9,204.2L652.6,202.6L651.3,202.4L650,204.5L648.7,204.1L647.4,203.4L646.1,204.6L644.8,203.6L643.5,204.6L642.2,202.9L640.9,203.6L639.6,204.2L638.3,203.5L637,203.8L635.7,203.6L634.4,205.7L633.1,204.6L631.8,204.4L630.5,203.4L629.2,202.9L627.9,203.6L626.6,204.3L625.3,205.1L624,203.8L622.7,203.8L621.4,204.5L620.1,204L618.8,203.5L617.5,203.6L616.2,202.9L614.9,203.6L613.6,204.3L612.3,204L611,203.2L609.7,203.7L608.4,202.5L607.1,203.4L605.8,203.7L604.5,205.5L603.2,204.2L601.9,205L600.6,204.6L599.3,202.9L598,203.3L596.7,203.1L595.4,203.8L594.1,203.9L592.8,203.9L591.5,203L590.2,202.8L588.9,203.8L587.6,203.7L586.3,203.8L585,203.6L583.7,204.6L582.4,204L581.1,203.1L579.8,202.4L578.5,203.4L577.2,204.6L575.9,203.6L574.6,203L573.3,202.9L572,204.1L570.7,204.1L569.4,203.7L568.1,204.5L566.8,202.6L565.5,204.4L564.2,203.4L562.9,203.3L561.6,202.6L560.3,203.7L559,204.3L557.7,203.4L556.4,202.1L555.1,203.6L553.8,203.4L552.5,203L551.2,203.3L549.9,203.4L548.6,203.6L547.3,203.2L546,202.1L544.7,202.5L543.4,204.1L542.1,204.1L540.8,203.6L539.5,203.6L538.2,205.7L536.9,203.6L535.6,203.5L534.3,204L533,203.7L531.7,205.2L530.4,202.8L529.1,203.2L527.8,204.6L526.5,204.8L525.2,205.8L523.9,204.4L522.6,203.8L521.3,204.3L520,202.7L518.7,203.4L517.4,203.9L516.1,203.1L514.8,205.1L513.5,205L512.2,203.7L510.9,203.8L509.6,203.1L508.3,204.3L507,202.6L505.7,203L504.4,204.8L503.1,205.5L501.8,204.4L500.5,204.1L499.2,204.8L497.9,204.3L496.6,204.4L495.3,203.9L494,203L492.7,204.6L491.4,203.6L490.1,204.2L488.8,203.8L487.5,204.5L486.2,203.6L484.9,203.9L483.6,203.8L482.3,204.7L481,204.1L479.7,204L478.4,204.5L477.1,204.3L475.8,202.3L474.5,204.1L473.2,203.5L471.9,203.1L470.6,202.7L469.3,204.8L468,203.9L466.7,201.8L465.4,204.5L464.1,201.7L462.8,202.6L461.5,202.8L460.2,205.2L458.9,204.4L457.6,204.4L456.3,204.5L455,204L453.7,203.8L452.4,203.6L451.1,204.3L449.8,204.9L448.5,203.5L447.2,203L445.9,203.9L444.6,203.8L443.3,202.8L442,204.7L440.7,203.8L439.4,202.6L438.1,204.7L436.8,203L435.5,204.2L434.2,203.3L432.9,204.7L431.6,204L430.3,203.4L429,202.9L427.7,203.3L426.4,203.3L425.1,205.4L423.8,202.7L422.5,203.3L421.2,204L419.9,203.7L418.6,204.1L417.3,203.7L416,203.8L414.7,205.6L413.4,202.5L412.1,203.2L410.8,202.5L409.5,203.5L408.2,204.4L406.9,204.7L405.6,204.1L404.3,203.8L403,205.1L401.7,204.6L400.4,205.7L399.1,203.2L397.8,203.2L396.5,205.2L395.2,203.5L393.9,202.2L392.6,203.8L391.3,203.9L390,203.9L388.7,204.3L387.4,204.5L386.1,203.2L384.8,205.3L383.5,202L382.2,204.2L380.9,203.9L379.6,204.7L378.3,204L377,204.3Z" fill="#0000ff"/>
<path d="M577.3,203h1.8M498.5,122.3h1.8M444.1,122.3h1.8M471.6,203h1.8M609,203h1.8M448.4,203h1.8M473.5,122.3h1.8M572.2,203h1.8M450.7,203h1.8" stroke="#ff0000" stroke-width="1.2" fill="none"/>
<path d="M377,123.2L378.1,123.5L379.2,123.3L380.3,122.6L381.4,123.4L382.5,123.4L383.6,123.5L384.7,123L385.8,123.4L386.9,123.5L388,122.9L389.1,123.6L390.2,123.8L391.3,123.7L392.4,123L393.5,122.8L394.6,123.2L395.7,122.9L396.8,124.4L397.9,123L399,123L400.1,123.4L401.2,123L402.3,122.3L403.4,123.3L404.5,123.1L405.6,123.1L406.7,122.5L407.8,122.9L408.9,123.1L410,123.3L411.1,122.9L412.2,122.9L413.3,122.9L414.4,123.2L415.5,123.1L416.6,122.8L417.7,123.7L418.8,123.1L419.9,123.6L421,122.7L422.1,123.3L423.2,123.2L424.3,123.3L425.4,123.6L426.5,123.5L427.6,123.2L428.7,123.3L429.8,122.6L430.9,123.3L432,122.5L433.1,122.3L434.2,123.2L435.3,123.1L436.4,123.8L437.5,123.6L438.6,123.8L439.7,123.2L440.8,123.5L441.9,123.7L443,123.4L444.1,123.5L445.2,123.4L446.3,123L447.4,123L448.5,122.5L449.6,123.4L450.7,123L451.8,122.9L452.9,123.6L454,123.1L455.1,123.8L456.2,124.1L457.3,123.4L458.4,123L459.5,122.7L460.6,124.3L461.7,123.6L462.8,122.7L463.9,123.6L465,122.5L466.1,123.1L467.2,123.3L468.3,123.2L469.4,122.7L470.5,124.3L471.6,123.1L472.7,123.5L473.8,123.5L474.9,122.6L476,123L477.1,123.3L478.2,123.5L479.3,123.1L480.4,123.5L481.5,123.2L482.6,123.7L483.7,122.2L484.8,123.5L485.9,123L487,123.1L488.1,122.1L489.2,122.9L490.3,123.5L491.4,124.2L492.5,122.9L493.6,122.9L494.7,123.7L495.8,123.5L496.9,123.1L498,123.2L499.1,123L500.2,123.6L501.3,123.8L502.4,124.1L503.5,123.8L504.6,123.5L505.7,123.2L506.8,123.7L507.9,122.9L509,124.4L510.1,123.6L511.2,123.9L512.3,122.9L513.4,123.7L514.5,123.4L515.6,123.3L516.7,123.1L517.8,122.8L518.9,124.1L520,123.7L521.1,123.3L522.2,123.5L523.3,123.1L524.4,122.6L525.5,122.5L526.6,122.9L527.7,123.2L528.8,122.8L529.9,123.7L531,123.6L532.1,123.3L533.2,122.4L534.3,123.2L535.4,123.2L536.5,122.9L537.6,122.5L538.7,124.2L539.8,123.6L540.9,123L542,123.9L543.1,123.9L544.2,123.5L545.3,123.4L546.4,123.6L547.5,123.8L548.6,123.3L549.7,123.3L550.8,123.6L551.9,122.2L553,123.4L554.1,123L555.2,123.2L556.3,123.1L557.4,123.5L558.5,123.5L559.6,123.3L560.7,123.2L561.8,123.4L562.9,123L564,123.9L565.1,122.7L566.2,123.5L567.3,123.6L568.4,122.6L569.5,123L570.6,123.9L571.7,123.2L572.8,123L573.9,122L575,123.3L576.1,123.3L577.2,123.6L578.3,124.3L579.4,123.5L580.5,123.4L581.6,123L582.7,123.2L583.8,123.1L584.9,123.7L586,123.6L587.1,123L588.2,123.1L589.3,123.8L590.4,122.8L591.5,123.7L592.6,124.1L593.7,123.7L594.8,123.5L595.9,123.8L597,123.4L598.1,123.2L599.2,123.2L600.3,124L601.4,123.6L602.5,124L603.6,123.1L604.7,123.1L605.8,123.2L606.9,123.6L608,123L609.1,123.7L610.2,123.3L611.3,122.7L612.4,122L613.5,122.5L614.6,124.1L615.7,123.4L616.8,123.3L617.9,123.1L619,123.5L620.1,122.4L621.2,122.6L622.3,122.6L623.4,123.2L624.5,123.5L625.6,123.3L626.7,123.2L627.8,122.9L628.9,123.7L630,123.3L631.1,123.3L632.2,123.2L633.3,123.1L634.4,123L635.5,123.1L636.6,122.8L637.7,123.3L638.8,123.1L639.9,123.7L641,122.5L642.1,124L643.2,123.4L644.3,123.2L645.4,122.9L646.5,122.8L647.6,122.6L648.7,123.8L649.8,123.2L650.9,123.6L652,123.6L653.1,122.9L654.2,123.2L655.3,123.2L656.4,123.9L657.5,123.5L658.6,123.3L659.7,123.5L660.8,123.2L661.9,124.2L663,123L663,201.8L661.9,202.6L660.8,202.3L659.7,201.9L658.6,202.3L657.5,202.4L656.4,201.4L655.3,201.9L654.2,201.9L653.1,201.2L652,201.9L650.9,201.5L649.8,202.1L648.7,202.7L647.6,202.2L646.5,202.9L645.4,202.1L644.3,202L643.2,200.9L642.1,201.5L641,201.7L639.9,201.7L638.8,201.5L637.7,200.9L636.6,201.9L635.5,201.7L634.4,202L633.3,201.6L632.2,201.8L631.1,201.2L630,200.8L628.9,201.4L627.8,201.6L626.7,201.7L625.6,202.2L624.5,201.6L623.4,200.5L622.3,202.6L621.2,201.7L620.1,201.3L619,202.3L617.9,201.5L616.8,201.9L615.7,202.1L614.6,201.5L613.5,201.6L612.4,202.1L611.3,202.5L610.2,201.5L609.1,201.7L608,201.7L606.9,201.8L605.8,201.7L604.7,201.8L603.6,201.4L602.5,202.5L601.4,202L600.3,202.7L599.2,201.7L598.1,201.8L597,201.9L595.9,201.7L594.8,201.8L593.7,202.3L592.6,202.6L591.5,202.4L590.4,202.1L589.3,201.9L588.2,202.2L587.1,201.3L586,202L584.9,202.2L583.8,201.7L582.7,202.5L581.6,202.6L580.5,201.6L579.4,202.5L578.3,201.5L577.2,202.2L576.1,202.4L575,201.5L573.9,201.8L572.8,200.8L571.7,202.4L570.6,201.4L569.5,201.1L568.4,201.7L567.3,201.7L566.2,201.3L565.1,202L564,202.2L562.9,201.8L561.8,201.4L560.7,201.7L559.6,203L558.5,202.3L557.4,202.1L556.3,201.7L555.2,201.2L554.1,200.8L553,201.7L551.9,201.7L550.8,201.6L549.7,201.7L548.6,201.6L547.5,201.4L546.4,201.4L545.3,200.9L544.2,202.1L543.1,201.3L542,202.2L540.9,201.9L539.8,201.6L538.7,201.6L537.6,201.2L536.5,202.2L535.4,202.1L534.3,201.7L533.2,201.6L532.1,202L531,201.9L529.9,202L528.8,201.7L527.7,201.2L526.6,202L525.5,201.7L524.4,202.1L523.3,201.5L522.2,202.1L521.1,202.3L520,201.6L518.9,200.9L517.8,201.8L516.7,201.9L515.6,202.2L514.5,202.5L513.4,202.1L512.3,201L511.2,201.5L510.1,202L509,201.7L507.9,201.9L506.8,201.2L505.7,201.4L504.6,201.3L503.5,202.3L502.4,201.4L501.3,202.7L500.2,201.8L499.1,202.1L498,202L496.9,202.2L495.8,201L494.7,201.4L493.6,201.6L492.5,202.2L491.4,201.7L490.3,201.8L489.2,202.2L488.1,202.5L487,201.8L485.9,201.8L484.8,201.3L483.7,201.8L482.6,202.4L481.5,201.9L480.4,202L479.3,201.2L478.2,202.1L477.1,202L476,202.6L474.9,202.2L473.8,201.5L472.7,201.7L471.6,201.7L470.5,202.1L469.4,200.8L468.3,201.3L467.2,201.6L466.1,201.3L465,201.9L463.9,201.8L462.8,202.2L461.7,201.6L460.6,201.6L459.5,202.2L458.4,202.4L457.3,201.3L456.2,201.4L455.1,201.4L454,201.6L452.9,201.6L451.8,201.9L450.7,200.5L449.6,201.8L448.5,202.3L447.4,202.1L446.3,202.4L445.2,201.3L444.1,201L443,201.5L441.9,201.8L440.8,201.2L439.7,202.3L438.6,201.7L437.5,202.4L436.4,201.9L435.3,202.7L434.2,201.8L433.1,202.6L432,202.1L430.9,201.5L429.8,202L428.7,201.9L427.6,201.3L426.5,201.3L425.4,201.3L424.3,201.7L423.2,201.8L422.1,201.8L421,201.1L419.9,201.5L418.8,201.5L417.7,202.1L416.6,201.8L415.5,202.2L414.4,201.5L413.3,202.1L412.2,202L411.1,201.4L410,201.9L408.9,201.6L407.8,201.8L406.7,202.7L405.6,201.6L404.5,201.6L403.4,202.2L402.3,201.8L401.2,201.3L400.1,201.1L399,200.9L397.9,201.7L396.8,202.6L395.7,201.6L394.6,201.9L393.5,201.9L392.4,202.2L391.3,201.1L390.2,201.6L389.1,202.3L388,201.3L386.9,201.1L385.8,200.6L384.7,201.7L383.6,202.5L382.5,201.7L381.4,201.5L380.3,201.9L379.2,201.2L378.1,202.2L377,201.9Z" fill="#00ff00"/>
<rect x="376.5" y="114.4" width="287.6" height="96.8" fill="none" stroke="#6a6a6a" stroke-width="0.75"/>
<rect x="522.4" y="12.5" width="147.4" height="92.2" fill="#fff" stroke="#5a5a5a" stroke-width="0.7"/>
<path d="M524.3,24.3H550.8" stroke="#000" stroke-width="1.8" stroke-dasharray="7 5" fill="none"/>
<path d="M524.4,47.1H550.6" stroke="#ff0000" stroke-width="1.8" fill="none"/>
<path d="M524.4,69.8H550.6" stroke="#0000ff" stroke-width="1.8" fill="none"/>
<path d="M524.4,92.4H550.6" stroke="#00ff00" stroke-width="1.8" fill="none"/>
<text transform="translate(552.1,31.6) scale(0.914,1)" font-size="21.0" fill="#000">Load value</text>
<text transform="translate(552.1,53.8) scale(0.914,1)" font-size="21.0" fill="#000">PI-MPVC</text>
<text transform="translate(552.1,76.4) scale(0.914,1)" font-size="21.0" fill="#000">CSMC-MPVC</text>
<text transform="translate(552.1,98.3) scale(0.914,1)" font-size="21.0" fill="#000">TSMC-MPVC</text>
<text transform="translate(72.4,383.8) scale(0.914,1)" font-size="22.6" text-anchor="middle">0</text>
<text transform="translate(147.6,383.8) scale(0.914,1)" font-size="22.6" text-anchor="middle">5</text>
<text transform="translate(222.9,383.8) scale(0.914,1)" font-size="22.6" text-anchor="middle">10</text>
<text transform="translate(298.1,383.8) scale(0.914,1)" font-size="22.6" text-anchor="middle">15</text>
<text transform="translate(373.3,383.8) scale(0.914,1)" font-size="22.6" text-anchor="middle">20</text>
<text transform="translate(448.6,383.8) scale(0.914,1)" font-size="22.6" text-anchor="middle">25</text>
<text transform="translate(523.8,383.8) scale(0.914,1)" font-size="22.6" text-anchor="middle">30</text>
<text transform="translate(599.1,383.8) scale(0.914,1)" font-size="22.6" text-anchor="middle">35</text>
<text transform="translate(674.3,383.8) scale(0.914,1)" font-size="22.6" text-anchor="middle">40</text>
<text transform="translate(66.3,365) scale(0.914,1)" font-size="22.6" text-anchor="end">0</text>
<text transform="translate(66.3,277.5) scale(0.914,1)" font-size="22.6" text-anchor="end">100</text>
<text transform="translate(66.3,190) scale(0.914,1)" font-size="22.6" text-anchor="end">200</text>
<text transform="translate(66.3,102.5) scale(0.914,1)" font-size="22.6" text-anchor="end">300</text>
<text transform="translate(66.3,15) scale(0.914,1)" font-size="22.6" text-anchor="end">400</text>
<text transform="translate(373.4,411.2) scale(0.945,1)" font-size="24.6" text-anchor="middle">Time (s)</text>
<text transform="translate(17,213.3) rotate(-90) scale(1,0.92)" font-size="24.6">F<tspan dx="-0.7" dy="11.3" font-size="19">e</tspan><tspan dx="0.5" dy="-11.3"> (N)</tspan></text>
<text transform="translate(163.6,225.8) scale(0.914,1)" font-size="18.3" text-anchor="middle">2.94</text>
<text transform="translate(231.8,225.8) scale(0.914,1)" font-size="18.3" text-anchor="middle">2.98</text>
<text transform="translate(300.1,225.8) scale(0.914,1)" font-size="18.3" text-anchor="middle">3.02</text>
<text transform="translate(145.4,193.8) scale(0.914,1)" font-size="18.3" text-anchor="end">80</text>
<text transform="translate(145.4,109.8) scale(0.914,1)" font-size="18.3" text-anchor="end">120</text>
<text transform="translate(418.4,233.2) scale(0.914,1)" font-size="18.3" text-anchor="middle">20</text>
<text transform="translate(534.8,233.2) scale(0.914,1)" font-size="18.3" text-anchor="middle">25</text>
<text transform="translate(651.3,233.2) scale(0.914,1)" font-size="18.3" text-anchor="middle">30</text>
<text transform="translate(371.4,202.2) scale(0.914,1)" font-size="18.3" text-anchor="end">85</text>
<text transform="translate(371.4,170.9) scale(0.914,1)" font-size="18.3" text-anchor="end">90</text>
<text transform="translate(371.4,139.6) scale(0.914,1)" font-size="18.3" text-anchor="end">95</text>
</svg></body></html>
